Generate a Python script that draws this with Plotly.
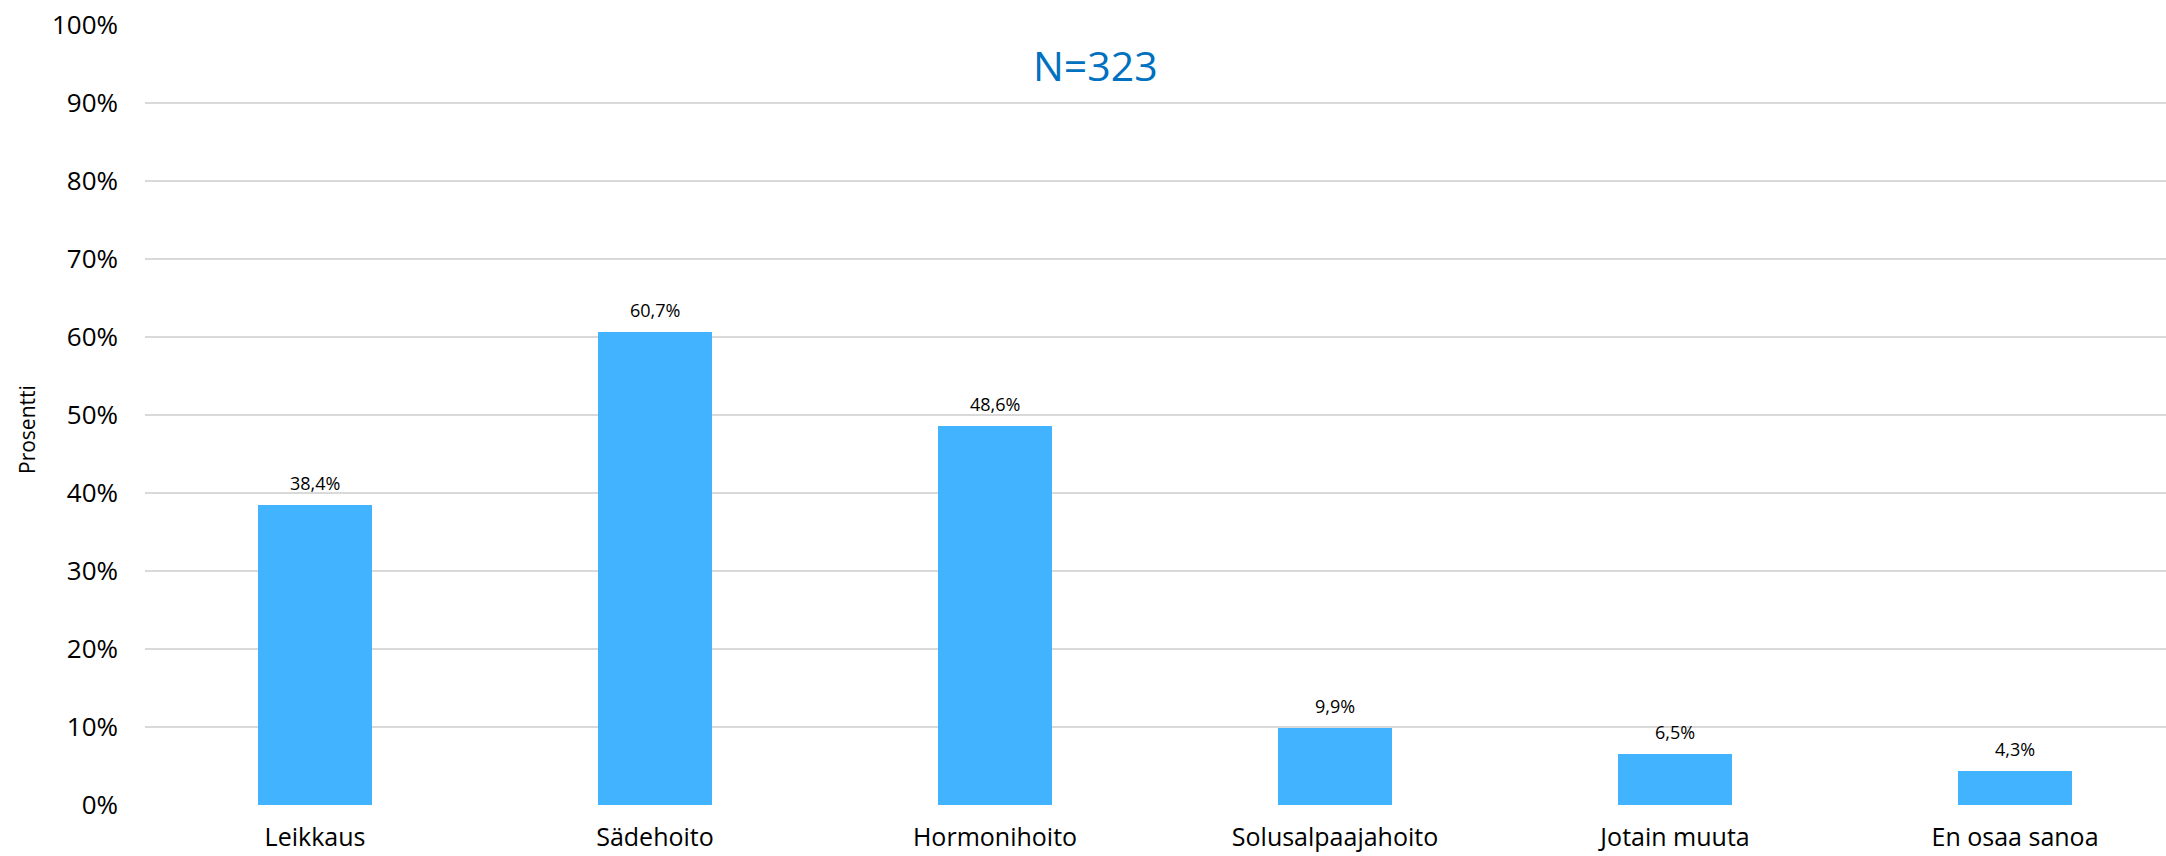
import plotly.graph_objects as go

categories = ["Leikkaus", "Sädehoito", "Hormonihoito", "Solusalpaajahoito", "Jotain muuta", "En osaa sanoa"]
values = [38.4, 60.7, 48.6, 9.9, 6.5, 4.3]
value_labels = ["38,4%", "60,7%", "48,6%", "9,9%", "6,5%", "4,3%"]
tick_vals = [0, 10, 20, 30, 40, 50, 60, 70, 80, 90, 100]
tick_text = ["0%", "10%", "20%", "30%", "40%", "50%", "60%", "70%", "80%", "90%", "100%"]
n_label = "N=323"
y_title = "Prosentti"

FONT = "Open Sans"
W, H = 2166, 856
ML, MR, MT, MB = 145, 0, 25, 51
PW, PH = W - ML - MR, H - MT - MB

fig = go.Figure()
fig.add_trace(go.Bar(
    x=list(range(len(categories))),
    y=values,
    marker=dict(color="#41B3FF", line=dict(width=0)),
    width=0.335,
    hoverinfo="skip",
))

for i, (v, t) in enumerate(zip(values, value_labels)):
    fig.add_annotation(
        x=i, y=v, text=t, showarrow=False, xref="x", yref="y",
        yanchor="bottom", xanchor="center", yshift=8,
        font=dict(family=FONT, size=18, color="#000000"),
    )

# N label (placed in pixel terms converted to paper/domain fractions)
fig.add_annotation(
    x=(1095 - ML) / PW, y=(H - MB - 65) / PH, xref="paper", yref="paper",
    text=n_label, showarrow=False, xanchor="center", yanchor="middle",
    font=dict(family=FONT, size=41, color="#0070C0"),
)

# Y-axis title
fig.add_annotation(
    x=(27 - ML) / PW, y=(H - MB - 430) / PH, xref="paper", yref="paper",
    text=y_title, showarrow=False, xanchor="center", yanchor="middle",
    textangle=-90,
    font=dict(family=FONT, size=21, color="#000000"),
)

fig.update_layout(
    width=W, height=H,
    margin=dict(l=ML, r=MR, t=MT, b=MB, autoexpand=False),
    paper_bgcolor="white", plot_bgcolor="white",
    showlegend=False,
    bargap=0,
    xaxis=dict(
        range=[-0.5, 5.444],
        tickmode="array", tickvals=list(range(len(categories))), ticktext=categories,
        showgrid=False, zeroline=False, showline=False, ticks="",
        ticklabelstandoff=15, automargin=False,
        tickfont=dict(family=FONT, size=25, color="#000000"),
        fixedrange=True,
    ),
    yaxis=dict(
        range=[0, 100],
        tickmode="array", tickvals=tick_vals, ticktext=tick_text,
        showgrid=True, gridcolor="#D9D9D9", gridwidth=2,
        zeroline=False, showline=False, ticks="",
        ticklabelstandoff=26, automargin=False,
        tickfont=dict(family=FONT, size=26, color="#000000"),
        fixedrange=True,
    ),
)

fig.write_html("out.html")
